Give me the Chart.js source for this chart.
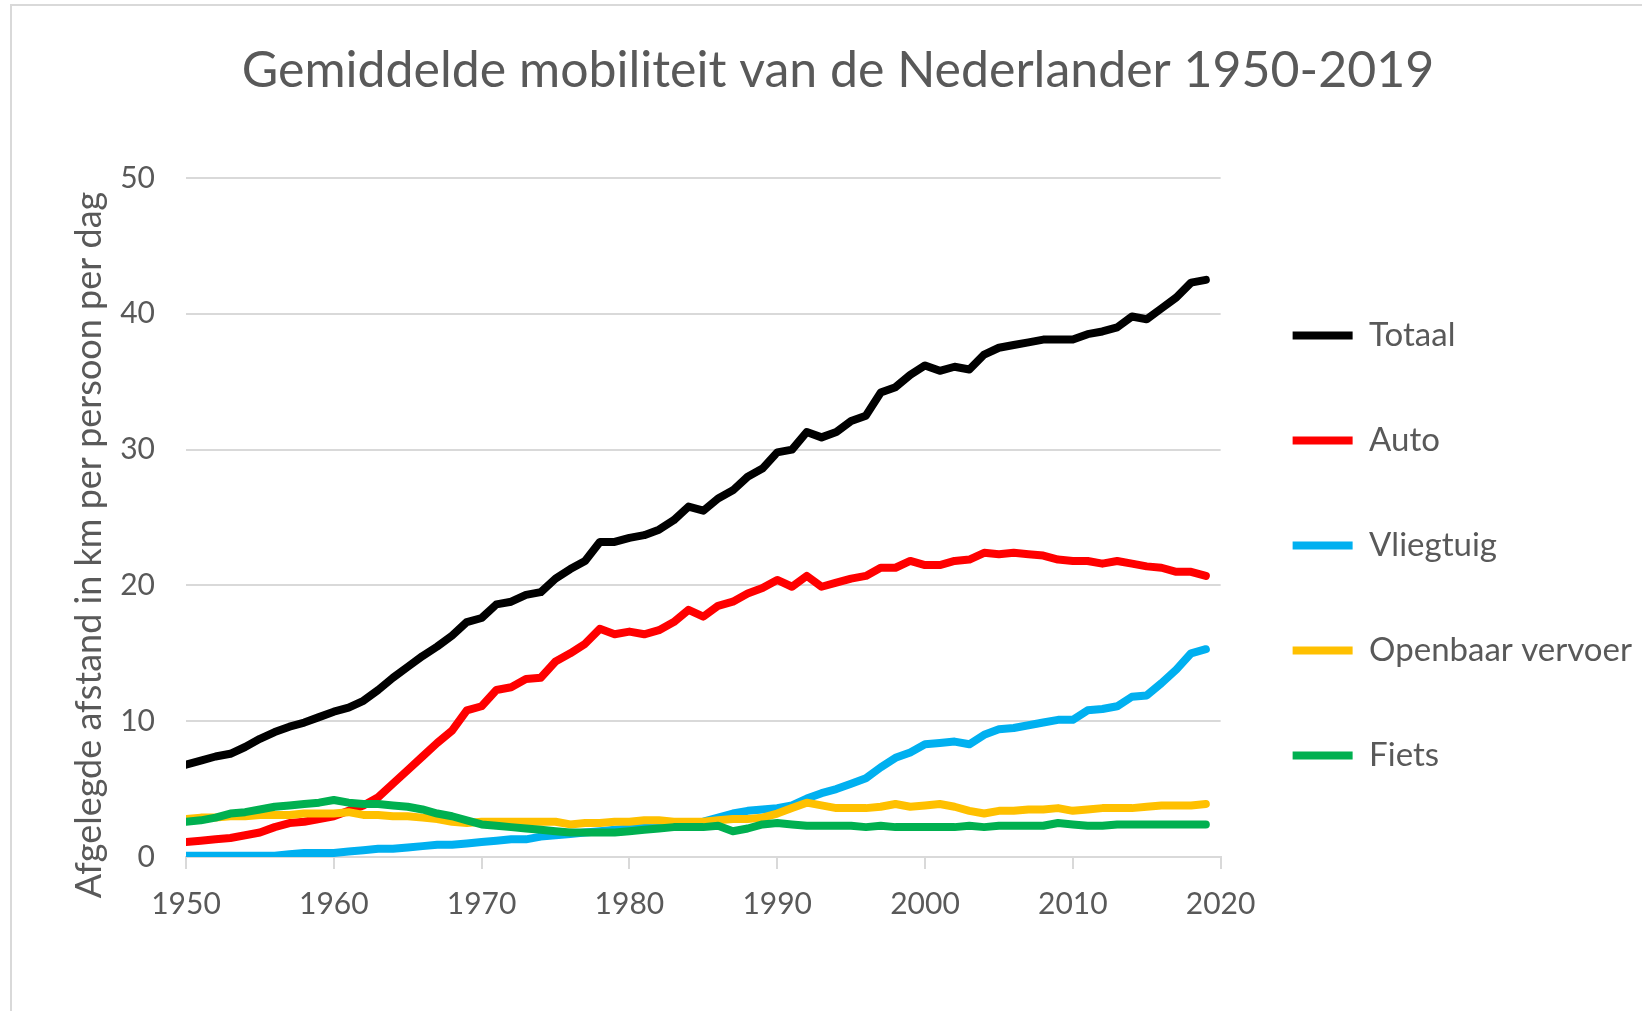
<!DOCTYPE html>
<html>
<head>
<meta charset="utf-8">
<script src="https://cdn.jsdelivr.net/npm/chart.js@4.4.1/dist/chart.umd.min.js"></script>
<style>
  html, body { margin: 0; padding: 0; background: #fff; }
  #frame { position: absolute; left: 10px; top: 4px; width: 1700px; height: 1100px;
           border-left: 2px solid #d9d9d9; border-top: 2px solid #d9d9d9; }
  #chart { position: absolute; left: 0; top: 0; }
</style>
</head>
<body>
<div id="frame"></div>
<canvas id="chart" width="1642" height="1011"></canvas>
<script>
const years = [];
for (let y = 1950; y <= 2019; y++) years.push(y);

const totaal = [
  6.8, 7.1, 7.4, 7.6, 8.1, 8.7, 9.2, 9.6, 9.9, 10.3,
  10.7, 11.0, 11.5, 12.3, 13.2, 14.0, 14.8, 15.5, 16.3, 17.3,
  17.6, 18.6, 18.8, 19.3, 19.5, 20.5, 21.2, 21.8, 23.2, 23.2,
  23.5, 23.7, 24.1, 24.8, 25.8, 25.5, 26.4, 27.0, 28.0, 28.6,
  29.8, 30.0, 31.3, 30.9, 31.3, 32.1, 32.5, 34.2, 34.6, 35.5,
  36.2, 35.8, 36.1, 35.9, 37.0, 37.5, 37.7, 37.9, 38.1, 38.1,
  38.1, 38.5, 38.7, 39.0, 39.8, 39.6, 40.4, 41.2, 42.3, 42.5
];
const auto = [
  1.1, 1.2, 1.3, 1.4, 1.6, 1.8, 2.2, 2.5, 2.6, 2.8,
  3.0, 3.4, 3.8, 4.4, 5.4, 6.4, 7.4, 8.4, 9.3, 10.8,
  11.1, 12.3, 12.5, 13.1, 13.2, 14.4, 15.0, 15.7, 16.8, 16.4,
  16.6, 16.4, 16.7, 17.3, 18.2, 17.7, 18.5, 18.8, 19.4, 19.8,
  20.4, 19.9, 20.7, 19.9, 20.2, 20.5, 20.7, 21.3, 21.3, 21.8,
  21.5, 21.5, 21.8, 21.9, 22.4, 22.3, 22.4, 22.3, 22.2, 21.9,
  21.8, 21.8, 21.6, 21.8, 21.6, 21.4, 21.3, 21.0, 21.0, 20.7
];
const vliegtuig = [
  0.1, 0.1, 0.1, 0.1, 0.1, 0.1, 0.1, 0.2, 0.3, 0.3,
  0.3, 0.4, 0.5, 0.6, 0.6, 0.7, 0.8, 0.9, 0.9, 1.0,
  1.1, 1.2, 1.3, 1.3, 1.5, 1.6, 1.7, 1.8, 1.9, 2.0,
  2.1, 2.2, 2.2, 2.3, 2.4, 2.6, 2.9, 3.2, 3.4, 3.5,
  3.6, 3.8, 4.3, 4.7, 5.0, 5.4, 5.8, 6.6, 7.3, 7.7,
  8.3, 8.4, 8.5, 8.3, 9.0, 9.4, 9.5, 9.7, 9.9, 10.1,
  10.1, 10.8, 10.9, 11.1, 11.8, 11.9, 12.8, 13.8, 15.0, 15.3
];
const ov = [
  2.8, 2.9, 2.9, 3.0, 3.0, 3.1, 3.1, 3.1, 3.2, 3.2,
  3.2, 3.3, 3.1, 3.1, 3.0, 3.0, 2.9, 2.8, 2.6, 2.5,
  2.6, 2.6, 2.6, 2.6, 2.6, 2.6, 2.4, 2.5, 2.5, 2.6,
  2.6, 2.7, 2.7, 2.6, 2.6, 2.6, 2.7, 2.8, 2.8, 2.9,
  3.2, 3.6, 4.0, 3.8, 3.6, 3.6, 3.6, 3.7, 3.9, 3.7,
  3.8, 3.9, 3.7, 3.4, 3.2, 3.4, 3.4, 3.5, 3.5, 3.6,
  3.4, 3.5, 3.6, 3.6, 3.6, 3.7, 3.8, 3.8, 3.8, 3.9
];
const fiets = [
  2.6, 2.7, 2.9, 3.2, 3.3, 3.5, 3.7, 3.8, 3.9, 4.0,
  4.2, 4.0, 3.9, 3.9, 3.8, 3.7, 3.5, 3.2, 3.0, 2.7,
  2.4, 2.3, 2.2, 2.1, 2.0, 1.9, 1.8, 1.8, 1.8, 1.8,
  1.9, 2.0, 2.1, 2.2, 2.2, 2.2, 2.3, 1.9, 2.1, 2.4,
  2.5, 2.4, 2.3, 2.3, 2.3, 2.3, 2.2, 2.3, 2.2, 2.2,
  2.2, 2.2, 2.2, 2.3, 2.2, 2.3, 2.3, 2.3, 2.3, 2.5,
  2.4, 2.3, 2.3, 2.4, 2.4, 2.4, 2.4, 2.4, 2.4, 2.4
];

const seriesNames = ["Totaal", "Auto", "Vliegtuig", "Openbaar vervoer", "Fiets"];
const seriesColors = ["#000000", "#ff0000", "#00b0f0", "#ffc000", "#00b050"];
const seriesData = [totaal, auto, vliegtuig, ov, fiets];

const FONT = "Lato";
const TEXT = "#595959";
const GRID = "#d9d9d9";

// y-axis title sits a bit below the plot centre, as in the Excel original
const yTitle = {
  id: "yTitle",
  afterDraw(chart) {
    const ctx = chart.ctx;
    ctx.save();
    ctx.translate(89, 545);
    ctx.rotate(-Math.PI / 2);
    ctx.font = `36px ${FONT}`;
    ctx.fillStyle = TEXT;
    ctx.textAlign = "center";
    ctx.textBaseline = "middle";
    ctx.fillText("Afgelegde afstand in km per persoon per dag", 0, 0);
    ctx.restore();
  }
};

new Chart(document.getElementById("chart"), {
  type: "line",
  data: {
    datasets: seriesNames.map((name, i) => ({
      label: name,
      data: seriesData[i].map((v, j) => ({ x: years[j], y: v })),
      borderColor: seriesColors[i],
      backgroundColor: seriesColors[i],
      borderWidth: 8,
      borderCapStyle: "round",
      borderJoinStyle: "round",
      pointRadius: 0,
      tension: 0,
      order: seriesNames.length - i
    }))
  },
  options: {
    responsive: false,
    animation: false,
    devicePixelRatio: 1,
    layout: { padding: { left: 34, right: 0, top: 0, bottom: 72 } },
    plugins: {
      title: {
        display: true,
        text: "Gemiddelde mobiliteit van de Nederlander 1950-2019",
        color: TEXT,
        font: { family: FONT, size: 50, weight: "normal" },
        padding: { top: 41, bottom: 77 }
      },
      legend: {
        position: "right",
        align: "start",
        maxWidth: 440,
        title: { display: true, text: " ", font: { size: 10 }, padding: { top: 0, bottom: 235 } },
        labels: {
          color: TEXT,
          font: { family: FONT, size: 33 },
          usePointStyle: true,
          pointStyle: "line",
          pointStyleWidth: 60,
          padding: 72,
          sort: (a, b) => a.datasetIndex - b.datasetIndex
        }
      },
      tooltip: { enabled: false }
    },
    scales: {
      x: {
        type: "linear",
        min: 1950,
        max: 2020,
        ticks: {
          stepSize: 10,
          autoSkip: false,
          maxRotation: 0,
          padding: 17,
          color: TEXT,
          font: { family: FONT, size: 30 },
          callback: v => String(v)
        },
        grid: { drawOnChartArea: false, color: GRID, lineWidth: 2, tickLength: 12 },
        border: { color: GRID, width: 2 }
      },
      y: {
        min: 0,
        max: 50,
        afterFit: scale => { scale.width = 152; },
        ticks: {
          stepSize: 10,
          padding: 31,
          color: TEXT,
          font: { family: FONT, size: 30 }
        },
        grid: { color: GRID, lineWidth: 2, drawTicks: false },
        border: { display: false }
      }
    }
  },
  plugins: [yTitle]
});
</script>
</body>
</html>
